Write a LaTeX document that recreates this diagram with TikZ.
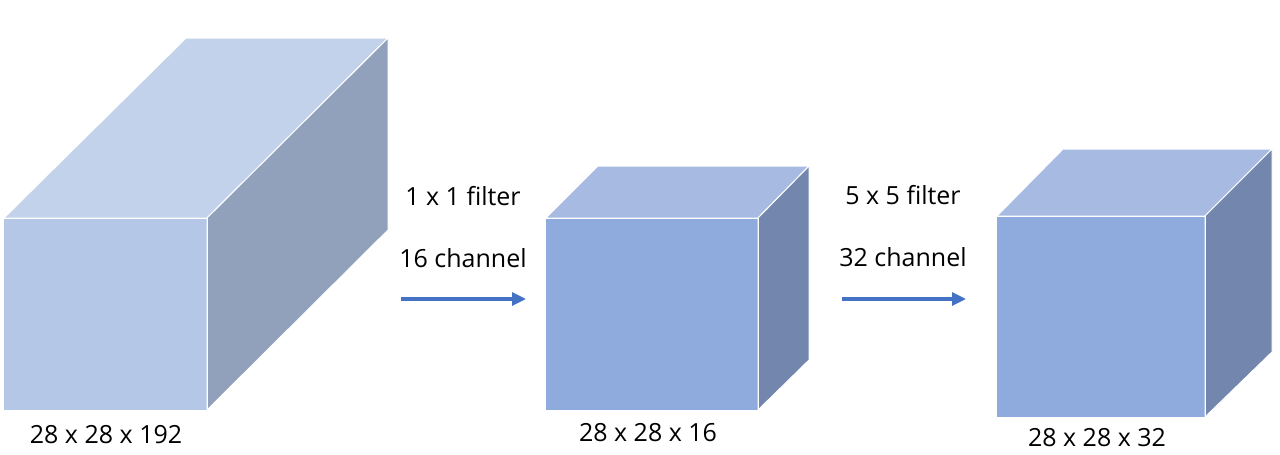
\documentclass[tikz,border=0pt]{standalone}
\usepackage{fontspec}
\setmainfont{Open Sans}
\usetikzlibrary{arrows.meta}
\definecolor{fA}{HTML}{B4C7E7}
\definecolor{tA}{HTML}{C2D2EB}
\definecolor{sA}{HTML}{91A1BB}
\definecolor{fB}{HTML}{8FAADC}
\definecolor{tB}{HTML}{A6BAE2}
\definecolor{sB}{HTML}{7386AE}
\definecolor{arr}{HTML}{4472C4}
\tikzset{
  face/.style={draw=white, line width=1pt, line join=round},
  lbl/.style={font=\fontsize{25}{30}\selectfont, text=black, inner sep=0pt},
  flow/.style={draw=arr, line width=3.2pt, -{Triangle[length=14pt,width=13pt]}, shorten >=0pt}
}
\begin{document}
\begin{tikzpicture}[x=1pt,y=-1pt]
\useasboundingbox (0,0) rectangle (1280,455);
% box 1
\fill[fA] (4,218) rectangle (207,410);
\draw[face, fill=tA] (4,218) -- (186,38) -- (388,38) -- (207,218) -- cycle;
\draw[face, fill=sA] (207,218) -- (388,38) -- (388,230) -- (207,410) -- cycle;
\draw[face] (4,218) -- (207,218) -- (207,410);
% box 2
\fill[fB] (546,218) rectangle (758,410);
\draw[face, fill=tB] (546,218) -- (598,166) -- (809,166) -- (758,218) -- cycle;
\draw[face, fill=sB] (758,218) -- (809,166) -- (809,360) -- (758,410) -- cycle;
\draw[face] (546,218) -- (758,218) -- (758,410);
% box 3
\fill[fB] (997,216) rectangle (1205,417);
\draw[face, fill=tB] (997,216) -- (1063,149) -- (1272,149) -- (1205,216) -- cycle;
\draw[face, fill=sB] (1205,216) -- (1272,149) -- (1272,352) -- (1205,417) -- cycle;
\draw[face] (997,216) -- (1205,216) -- (1205,417);
% labels
\node[lbl] (l1) at (106,435) {28 x 28 x 192};
\node[lbl] (l2) at (648,433) {28 x 28 x 16};
\node[lbl] (l3) at (1097,438) {28 x 28 x 32};
\node[lbl] (f1) at (463,196) {1 x 1 filter};
\node[lbl] (c1) at (463,258) {16 channel};
\node[lbl] (f2) at (903,195) {5 x 5 filter};
\node[lbl] (c2) at (903,257) {32 channel};
% arrows
\coordinate (a1s) at (401,299);
\coordinate (a1e) at (526,299);
\coordinate (a2s) at (842,299);
\coordinate (a2e) at (966,299);
\draw[flow] (a1s) -- (a1e);
\draw[flow] (a2s) -- (a2e);
\end{tikzpicture}
\end{document}
